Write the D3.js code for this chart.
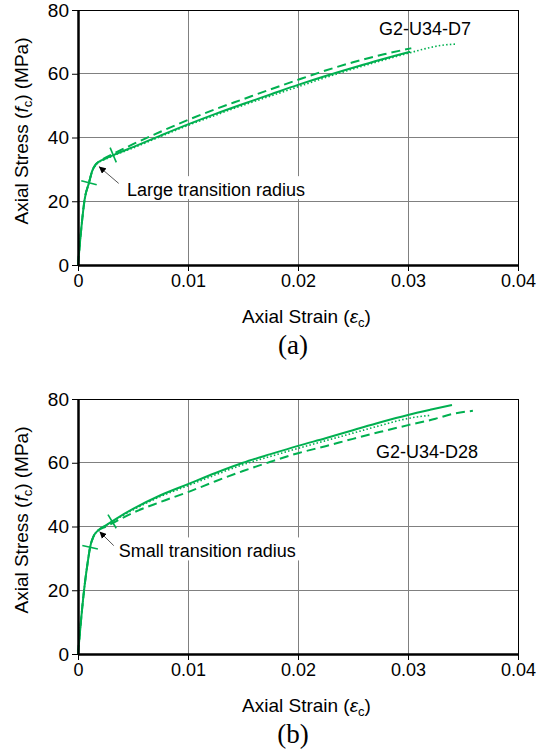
<!DOCTYPE html>
<html>
<head>
<meta charset="utf-8">
<script src="https://cdn.jsdelivr.net/npm/d3@7"></script>
<style>
  body { margin: 0; background: #fff; }
  svg { display: block; font-family: "Liberation Sans", Arial, sans-serif; }
</style>
</head>
<body>
<div class="graph"></div>
<script>
const strainTicks = [0, 0.01, 0.02, 0.03, 0.04];
const stressTicks = [0, 20, 40, 60, 80];

// (a) G2-U34-D7  [strain, stress MPa]
const d7Solid = [[0,0],[0.0003,11.5],[0.0006,20.5],[0.001,25.8],[0.0013,29.6],[0.0016,31.5],[0.0019,32.4],
  [0.0025,33.4],[0.0035,34.9],[0.005,37.0],[0.0075,40.6],[0.01,44.1],[0.0125,47.4],[0.015,50.5],
  [0.0175,53.5],[0.02,56.5],[0.0225,59.3],[0.025,61.9],[0.0275,64.4],[0.0302,66.9]];
const d7Dashed = [[0,0],[0.0003,11.5],[0.0006,20.5],[0.001,25.8],[0.0013,29.6],[0.0016,31.5],[0.0019,32.5],
  [0.0025,33.7],[0.0035,35.4],[0.005,37.9],[0.0075,41.8],[0.01,45.5],[0.0125,48.9],[0.015,52.0],
  [0.0175,55.1],[0.02,58.1],[0.0225,61.0],[0.025,63.6],[0.0278,66.1],[0.0303,68.0]];
const d7Dotted = [[0,0],[0.0003,11.5],[0.0006,20.5],[0.001,25.8],[0.0013,29.5],[0.0016,31.3],[0.0019,32.2],
  [0.0025,33.2],[0.0035,34.7],[0.005,36.7],[0.0075,40.3],[0.01,43.8],[0.0125,47.0],[0.015,50.1],
  [0.0175,53.0],[0.02,55.9],[0.0225,58.8],[0.025,61.5],[0.0275,64.0],[0.0302,66.6],[0.0315,67.8],
  [0.033,68.9],[0.0343,69.3]];
const d7Marks = [[0.001,25.8],[0.0032,34.5]];
const d7Arrow = [[0.0037,25.6],[0.0019,30.9]];

// (b) G2-U34-D28
const d28Solid = [[0,0],[0.0003,11.5],[0.00055,20],[0.0009,29.2],[0.0011,33.5],[0.0014,36.8],[0.0018,38.7],
  [0.0025,40.3],[0.0035,42.5],[0.005,45.5],[0.0075,49.8],[0.01,53.3],[0.0125,56.8],[0.015,60.0],
  [0.0175,62.7],[0.02,65.3],[0.0225,67.7],[0.025,70.2],[0.0275,72.7],[0.03,75.0],[0.032,76.6],[0.034,78.1]];
const d28Dashed = [[0,0],[0.0003,11.5],[0.00055,20],[0.0009,29.2],[0.0011,33.5],[0.0014,36.8],[0.0018,38.6],
  [0.0025,39.9],[0.0035,41.7],[0.005,44.3],[0.0075,47.7],[0.01,50.8],[0.0125,54.2],[0.015,57.4],
  [0.0175,60.3],[0.02,63.0],[0.0225,65.2],[0.025,67.5],[0.0275,69.7],[0.03,71.8],[0.0325,73.8],
  [0.034,75.3],[0.0359,76.3]];
const d28Dotted = [[0,0],[0.0003,11.5],[0.00055,20],[0.0009,29.2],[0.0011,33.5],[0.0014,36.8],[0.0018,38.7],
  [0.0025,40.2],[0.0035,42.3],[0.005,45.2],[0.0075,49.4],[0.01,52.8],[0.0125,56.2],[0.015,59.4],
  [0.0175,62.0],[0.02,64.5],[0.0225,66.9],[0.025,69.3],[0.0275,71.7],[0.03,73.9],[0.0321,74.9]];
const d28Marks = [[0.0011,33.5],[0.0031,41.6]];
const d28Arrow = [[0.00325,34.0],[0.00195,38.4]];

const width = 539;
const height = 752;
const green = "#00b050";

const svg = d3.select(".graph")
  .append("svg")
  .attr("width", width)
  .attr("height", height);

svg.append("defs").append("marker")
  .attr("id", "head")
  .attr("viewBox", "0 0 10 10")
  .attr("refX", 10).attr("refY", 5)
  .attr("markerWidth", 7).attr("markerHeight", 7)
  .attr("markerUnits", "userSpaceOnUse")
  .attr("orient", "auto")
  .append("path")
  .attr("d", "M0,0L10,5L0,10z")
  .attr("fill", "#000");

function drawPanel(p) {
  const x = d3.scaleLinear().domain([0, 0.04]).range([78, 518]);
  const y = d3.scaleLinear().domain([0, 80]).range([p.bottom, p.top]);
  const g = svg.append("g");

  // grid
  g.selectAll(".vg").data(strainTicks.slice(1, -1)).join("line")
    .attr("x1", d => x(d)).attr("x2", d => x(d))
    .attr("y1", p.top).attr("y2", p.bottom)
    .attr("stroke", "#808080").attr("shape-rendering", "crispEdges");
  g.selectAll(".hg").data(stressTicks.slice(1, -1)).join("line")
    .attr("x1", 78).attr("x2", 518)
    .attr("y1", d => y(d)).attr("y2", d => y(d))
    .attr("stroke", "#808080").attr("shape-rendering", "crispEdges");

  g.append("rect")
    .attr("x", 78).attr("y", p.top)
    .attr("width", 440).attr("height", p.bottom - p.top)
    .attr("fill", "none").attr("stroke", "#000")
    .attr("shape-rendering", "crispEdges");

  // note text on white box
  const note = g.append("text")
    .attr("x", x(p.note[0])).attr("y", y(p.note[1]))
    .attr("font-size", 18)
    .text(p.noteText);
  const bb = note.node().getBBox();
  g.insert("rect", () => note.node())
    .attr("x", bb.x - 4).attr("y", bb.y - 4)
    .attr("width", bb.width + 8).attr("height", bb.height + 3)
    .attr("fill", "#fff");

  g.append("text")
    .attr("x", x(p.label[0])).attr("y", y(p.label[1]))
    .attr("font-size", 18)
    .text(p.labelText);

  // curves
  const line = d3.line().x(d => x(d[0])).y(d => y(d[1])).curve(d3.curveMonotoneX);
  g.append("path").datum(p.dotted).attr("d", line)
    .attr("fill", "none").attr("stroke", green)
    .attr("stroke-width", 1.6).attr("stroke-dasharray", "1.5,2.2");
  g.append("path").datum(p.dashed).attr("d", line)
    .attr("fill", "none").attr("stroke", green)
    .attr("stroke-width", 2).attr("stroke-dasharray", "9,5");
  g.append("path").datum(p.solid).attr("d", line)
    .attr("fill", "none").attr("stroke", green)
    .attr("stroke-width", 2);

  // cross marks, perpendicular to the solid curve
  p.marks.forEach(m => {
    const i = d3.bisector(d => d[0]).left(p.solid, m[0]);
    const a = p.solid[Math.max(i - 1, 0)], b = p.solid[Math.min(i + 1, p.solid.length - 1)];
    const dx = x(b[0]) - x(a[0]), dy = y(b[1]) - y(a[1]);
    const len = Math.hypot(dx, dy);
    const nx = -dy / len * 8, ny = dx / len * 8;
    g.append("line")
      .attr("x1", x(m[0]) - nx).attr("y1", y(m[1]) - ny)
      .attr("x2", x(m[0]) + nx).attr("y2", y(m[1]) + ny)
      .attr("stroke", green).attr("stroke-width", 1.6);
  });

  g.append("line")
    .attr("x1", x(p.arrow[0][0])).attr("y1", y(p.arrow[0][1]))
    .attr("x2", x(p.arrow[1][0])).attr("y2", y(p.arrow[1][1]))
    .attr("stroke", "#555").attr("stroke-width", 1)
    .attr("marker-end", "url(#head)");

  // axes
  const xAxis = d3.axisBottom(x)
    .tickValues(strainTicks).tickSize(6).tickSizeOuter(0)
    .tickFormat(d => d === 0 ? "0" : d3.format(".2f")(d));
  g.append("g")
    .attr("transform", `translate(0,${p.bottom})`)
    .call(xAxis)
    .attr("font-size", 18).attr("font-family", null)
    .call(a => a.select(".domain").attr("stroke-width", 2.5));

  const yAxis = d3.axisLeft(y).tickValues(stressTicks).tickSize(6).tickSizeOuter(0);
  g.append("g")
    .attr("transform", "translate(78,0)")
    .call(yAxis)
    .attr("font-size", 19).attr("font-family", null)
    .call(a => a.select(".domain").attr("stroke-width", 2.5));

  // axis titles
  const xt = g.append("text")
    .attr("x", 242).attr("y", p.bottom + 58)
    .attr("font-size", 19);
  xt.append("tspan").text("Axial Strain (");
  xt.append("tspan").attr("font-style", "italic").text("ε");
  xt.append("tspan").attr("font-size", 13).attr("dy", 4).text("c");
  xt.append("tspan").attr("dy", -4).text(")");

  const yt = g.append("text")
    .attr("transform", `translate(28,${p.top + 121}) rotate(-90)`)
    .attr("text-anchor", "middle")
    .attr("font-size", 19);
  yt.append("tspan").text("Axial Stress (");
  yt.append("tspan").attr("font-style", "italic").text("f");
  yt.append("tspan").attr("font-size", 13).attr("dy", 4).text("c");
  yt.append("tspan").attr("dy", -4).text(") (MPa)");

  g.append("text")
    .attr("x", 293).attr("y", p.bottom + 89)
    .attr("text-anchor", "middle")
    .attr("font-family", "'Liberation Serif', 'Times New Roman', serif")
    .attr("font-size", 27)
    .text(p.caption);
}

drawPanel({
  top: 10, bottom: 265,
  solid: d7Solid, dashed: d7Dashed, dotted: d7Dotted,
  marks: d7Marks, arrow: d7Arrow,
  note: [0.00445, 21.6], noteText: "Large transition radius",
  label: [0.02736, 72.2], labelText: "G2-U34-D7",
  caption: "(a)"
});

drawPanel({
  top: 399, bottom: 654,
  solid: d28Solid, dashed: d28Dashed, dotted: d28Dotted,
  marks: d28Marks, arrow: d28Arrow,
  note: [0.0037, 30.3], noteText: "Small transition radius",
  label: [0.0271, 61.6], labelText: "G2-U34-D28",
  caption: "(b)"
});
</script>
</body>
</html>
